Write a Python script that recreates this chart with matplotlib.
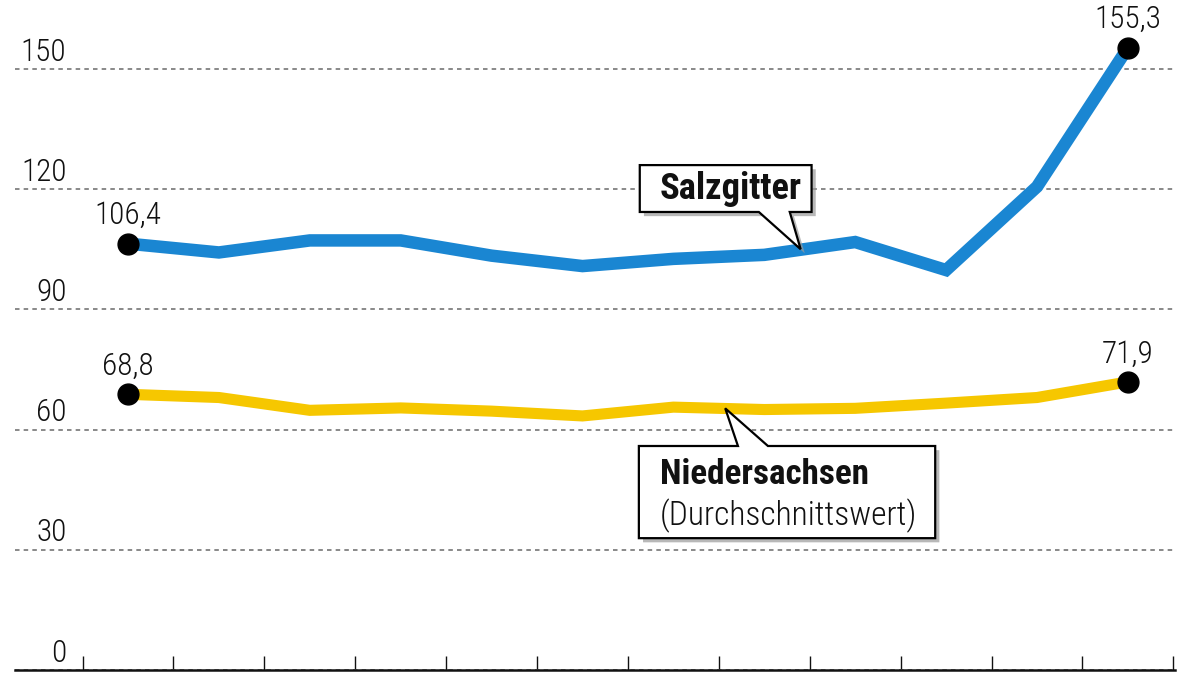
import numpy as np
import matplotlib
matplotlib.use("Agg")
import matplotlib.pyplot as plt
import matplotlib.patheffects as pe
from matplotlib.patches import Polygon
from matplotlib import font_manager

available = {f.name for f in font_manager.fontManager.ttflist}
prefs = ['Roboto Condensed', 'Liberation Sans Narrow', 'DejaVu Sans Condensed', 'Open Sans Condensed', 'Roboto']
chosen = next((p for p in prefs if p in available), 'DejaVu Sans')
plt.rcParams['font.family'] = [chosen, 'DejaVu Sans']

# ---- data ----
salzgitter = [106.4, 104.2, 107.2, 107.2, 103.4, 100.8, 102.6, 103.6, 106.8, 99.8, 120.6, 155.3]
niedersachsen = [68.8, 68.0, 64.8, 65.4, 64.6, 63.4, 65.6, 65.0, 65.3, 66.6, 68.0, 71.9]
y_ticks = [0, 30, 60, 90, 120, 150]

BLUE = '#1a86d2'
YELLOW = '#f6c700'
LIGHT = 'light'

x = np.arange(len(salzgitter))

fig = plt.figure(figsize=(12, 6.75), dpi=100)
ax = fig.add_axes([15 / 1200, 5 / 675, 1160 / 1200, 670 / 675])
ax.set_xlim(-1.243, 11.518)
ax.set_ylim(0, 167.2)

# grid
ax.set_yticks(y_ticks)
ax.yaxis.grid(True, color='#808080', linewidth=1.3, linestyle=(0, (2.5, 2.3)))
ax.set_axisbelow(True)
ax.tick_params(axis='y', length=0, labelleft=False)

for s in ['top', 'right', 'left']:
    ax.spines[s].set_visible(False)
ax.spines['bottom'].set_linewidth(1.8)
ax.spines['bottom'].set_color('#111111')

ax.set_xticks(np.arange(len(x) + 1) - 0.5)
ax.tick_params(axis='x', direction='in', length=10, width=1.0, color='#111111', labelbottom=False)

def fit_size(text, target_px, weight='normal', base=24):
    t = fig.text(0, 0, text, fontsize=base, fontweight=weight)
    r = fig.canvas.get_renderer()
    w = t.get_window_extent(renderer=r).width
    t.remove()
    return base * target_px / w

num_fs = min(28, fit_size('106,4', 67, LIGHT))
salz_fs = min(30, fit_size('Salzgitter', 142, 'bold'))
nied_fs = min(30, fit_size('Niedersachsen', 210, 'bold'))
durch_fs = min(30, fit_size('(Durchschnittswert)', 258, LIGHT))

# y labels right aligned above grid lines
for v in y_ticks:
    ax.annotate(str(v), xy=(0, v), xycoords=('axes fraction', 'data'),
                xytext=(37, 6), textcoords='offset points', ha='right', va='baseline',
                fontsize=num_fs, fontweight=LIGHT, color='#111111')

# lines
ax.plot(x, salzgitter, color=BLUE, lw=9, solid_joinstyle='miter', solid_capstyle='butt',
        marker='o', markevery=[0, len(x) - 1], markersize=15, markerfacecolor='black',
        markeredgecolor='black', zorder=3)
ax.plot(x, niedersachsen, color=YELLOW, lw=8, solid_joinstyle='miter', solid_capstyle='butt',
        marker='o', markevery=[0, len(x) - 1], markersize=15, markerfacecolor='black',
        markeredgecolor='black', zorder=3)

def fmt(v):
    return f"{v:.1f}".replace('.', ',')

for series in (salzgitter, niedersachsen):
    for i in (0, len(series) - 1):
        ax.annotate(fmt(series[i]), xy=(x[i], series[i]), xytext=(0, 14),
                    textcoords='offset points', ha='center', va='baseline',
                    fontsize=num_fs, fontweight=LIGHT, color='#111111')

# callouts
shadow = [pe.SimplePatchShadow(offset=(3, -3), shadow_rgbFace='#9a9a9a', alpha=0.7), pe.Normal()]

salz_poly = [(5.63, 126.0), (7.52, 126.0), (7.52, 114.3), (7.28, 114.3), (7.40, 105.0),
             (6.94, 114.3), (5.63, 114.3)]
p1 = Polygon(salz_poly, closed=True, facecolor='white', edgecolor='black', lw=1.6,
             zorder=5, path_effects=shadow, joinstyle='miter')
ax.add_patch(p1)
ax.text(5.85, 117.6, 'Salzgitter', fontsize=salz_fs, fontweight='bold', ha='left', va='baseline',
        zorder=6, color='#111111')

nied_poly = [(5.62, 55.9), (6.71, 55.9), (6.57, 65.3), (7.04, 55.9), (8.88, 55.9),
             (8.88, 32.9), (5.62, 32.9)]
p2 = Polygon(nied_poly, closed=True, facecolor='white', edgecolor='black', lw=1.6,
             zorder=5, path_effects=shadow, joinstyle='miter')
ax.add_patch(p2)
ax.text(5.85, 46.4, 'Niedersachsen', fontsize=nied_fs, fontweight='bold', ha='left', va='baseline',
        zorder=6, color='#111111')
ax.text(5.85, 36.0, '(Durchschnittswert)', fontsize=durch_fs, fontweight=LIGHT, ha='left',
        va='baseline', zorder=6, color='#111111')

fig.savefig('out.png', dpi=100, facecolor='white')
